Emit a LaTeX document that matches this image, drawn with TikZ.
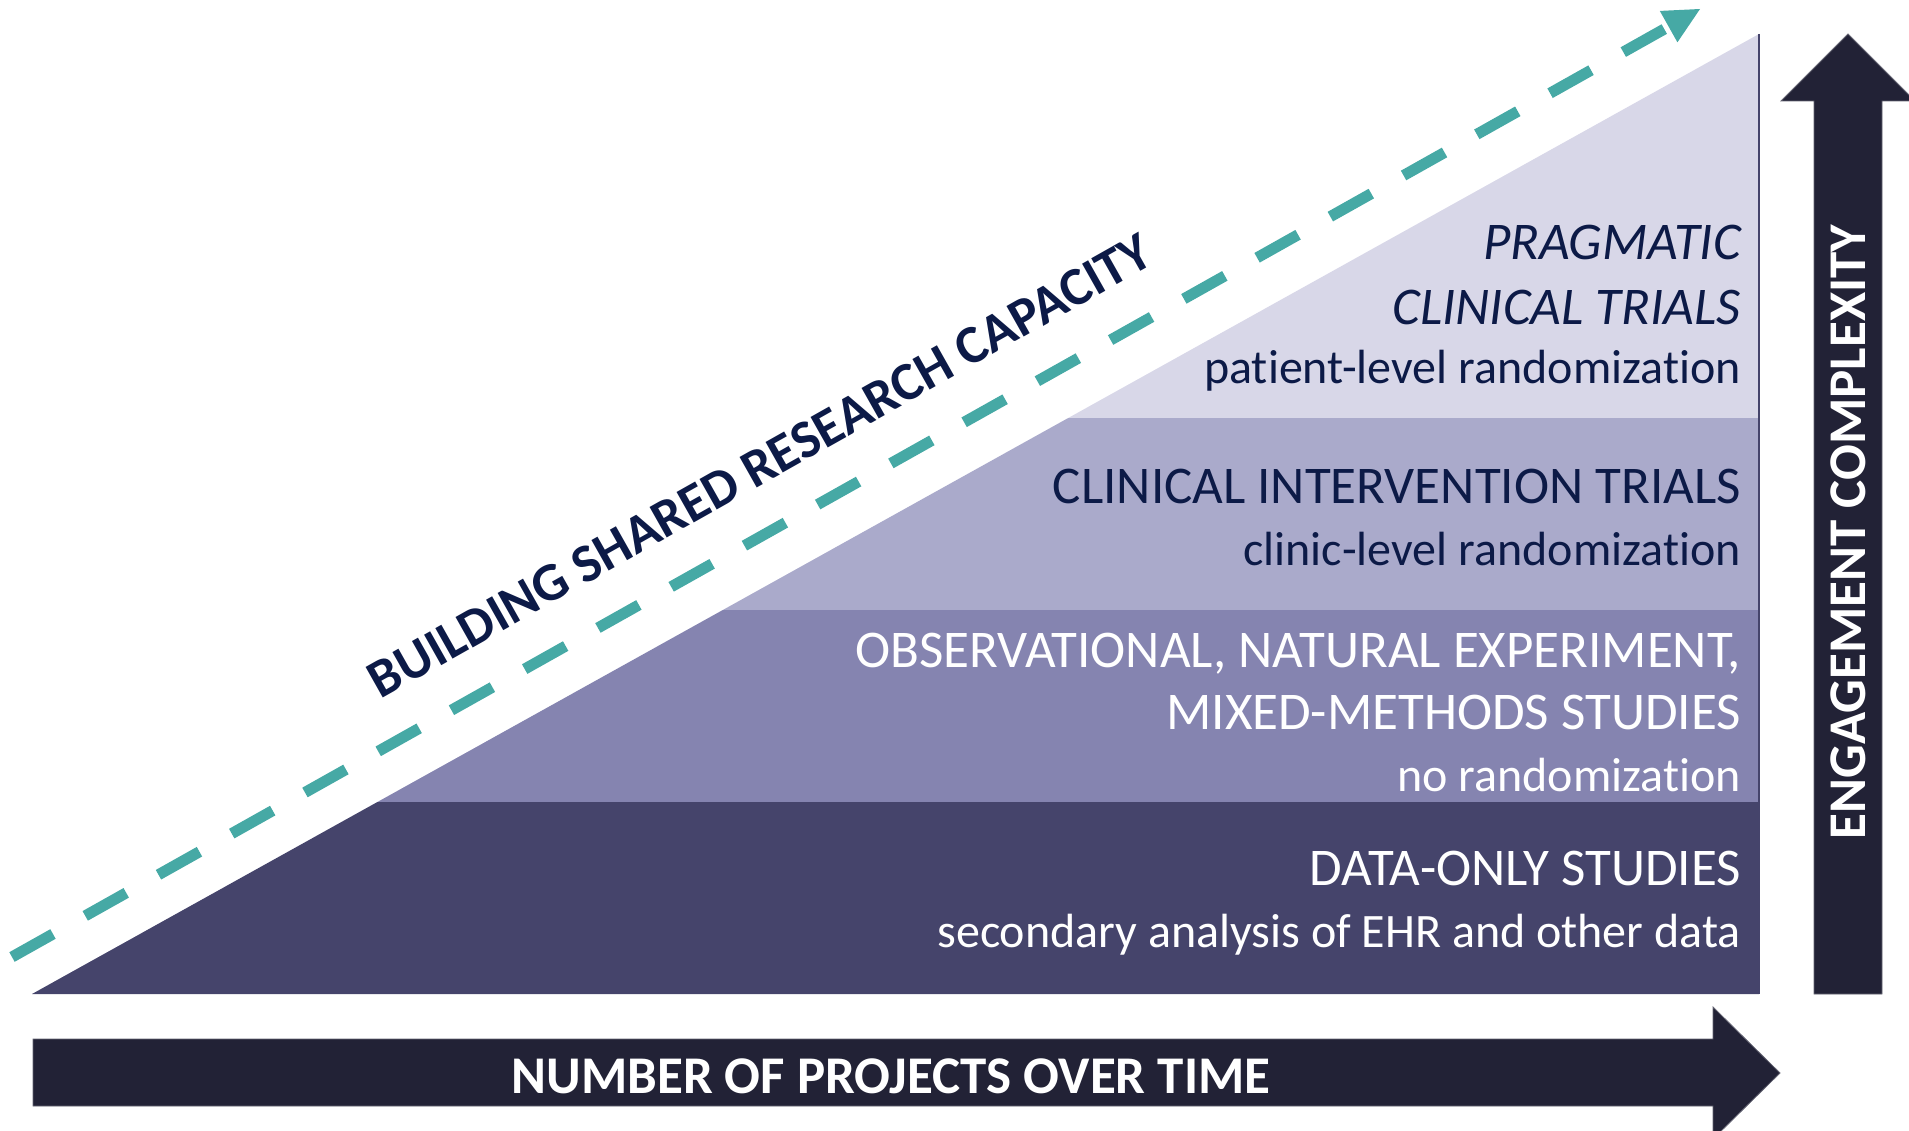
\documentclass[tikz,border=0pt]{standalone}
\usepackage{fontspec}
\setmainfont{Carlito}[Ligatures=NoCommon]
\usetikzlibrary{calc}
\definecolor{bandA}{HTML}{45446B}
\definecolor{bandB}{HTML}{8584B0}
\definecolor{bandC}{HTML}{AAAACB}
\definecolor{bandD}{HTML}{D8D7E8}
\definecolor{navy}{HTML}{0C1A47}
\definecolor{arrowdark}{HTML}{222236}
\definecolor{tealc}{HTML}{46A9A5}
\begin{document}
\begin{tikzpicture}[x=1pt,y=-1pt,
  lbl/.style={anchor=base east, inner sep=0pt, font=\fontsize{53}{60}\selectfont},
  sub/.style={font=\fontsize{48}{56}\selectfont},
  dk/.style={lbl, text=navy},
  wt/.style={lbl, text=white},
  bigarrow/.style={fill=arrowdark, draw=arrowdark!70!white, line width=0.8pt},
  boldlbl/.style={inner sep=0pt, font=\fontsize{53}{60}\selectfont\bfseries}]
\useasboundingbox (0,0) rectangle (1909,1131);
% staircase triangle
\begin{scope}
  \clip (32,994) -- (1759,994) -- (1759,34) -- cycle;
  \fill[bandD] (0,0) rectangle (1760,418);
  \fill[bandC] (0,418) rectangle (1760,610);
  \fill[bandB] (0,610) rectangle (1760,802);
  \fill[bandA] (0,802) rectangle (1760,995);
\end{scope}
\draw[bandA, line width=1.2pt] (1759,34) -- (1759,994);
% band texts
\node[dk, font=\fontsize{53}{60}\selectfont\itshape] (p1) at (1741,260) {PRAGMATIC};
\node[dk, font=\fontsize{53}{60}\selectfont\itshape] (p2) at (1741,325) {CLINICAL TRIALS};
\node[dk, sub] (p3) at (1741,384) {patient-level randomization};
\node[dk] (c1) at (1741,503) {CLINICAL INTERVENTION TRIALS};
\node[dk, sub] (c2) at (1741,565) {clinic-level randomization};
\node[wt] (o1) at (1741,667) {OBSERVATIONAL, NATURAL EXPERIMENT,};
\node[wt] (o2) at (1741,729) {MIXED-METHODS STUDIES};
\node[wt, sub] (o3) at (1741,791) {no randomization};
\node[wt] (d1) at (1741,885) {DATA-ONLY STUDIES};
\node[wt, sub] (d2) at (1741,947) {secondary analysis of EHR and other data};
% horizontal arrow
\path[bigarrow] (33,1039) -- (1713,1039) -- (1713,1007) -- (1780,1073)
  -- (1713,1139) -- (1713,1106) -- (33,1106) -- cycle;
\node[boldlbl, text=white, anchor=base] (xlab) at (891,1093) {NUMBER OF PROJECTS OVER TIME};
% vertical arrow
\path[bigarrow] (1814,994) -- (1814,101) -- (1781,101) -- (1848,34)
  -- (1915,101) -- (1882,101) -- (1882,994) -- cycle;
\node[boldlbl, text=white, rotate=90] (ylab) at (1848,532) {ENGAGEMENT COMPLEXITY};
% dashed capacity arrow
\coordinate (ds) at (12,957);
\coordinate (dt) at (1700,9);
\coordinate (ab) at ($(dt)!36pt!(ds)$);
\draw[tealc, line width=11pt, dash pattern=on 47pt off 37pt] (ds) -- (ab);
\fill[tealc] (dt) -- ($(ab)!18pt!90:(dt)$) -- ($(ab)!18pt!-90:(dt)$) -- cycle;
\node[boldlbl, text=navy, rotate=29.4, font=\fontsize{54}{60}\selectfont\bfseries] (cap) at (760,466) {BUILDING SHARED RESEARCH CAPACITY};
\end{tikzpicture}
\end{document}
